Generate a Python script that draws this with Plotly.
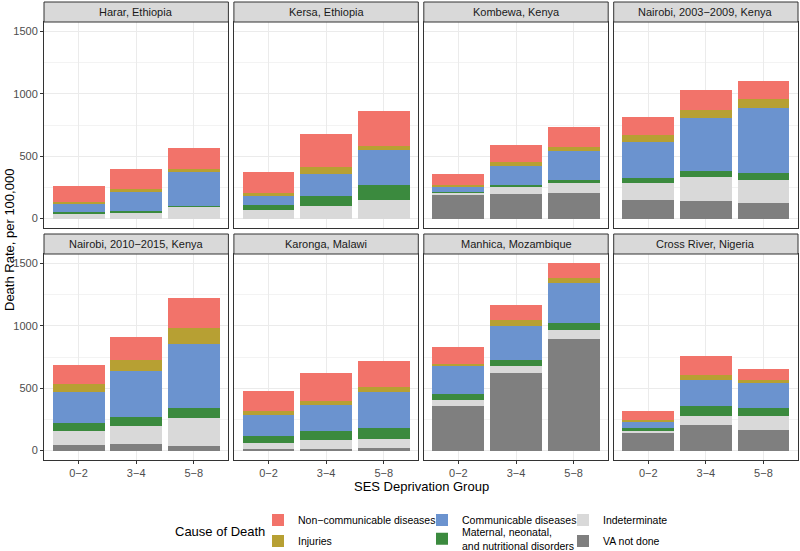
import plotly.graph_objects as go
from plotly.subplots import make_subplots

sites = ["Harar, Ethiopia", "Kersa, Ethiopia", "Kombewa, Kenya", "Nairobi, 2003−2009, Kenya",
         "Nairobi, 2010−2015, Kenya", "Karonga, Malawi", "Manhica, Mozambique", "Cross River, Nigeria"]
groups = ["0−2", "3−4", "5−8"]

# death rate per 100,000, one [0-2, 3-4, 5-8] list per site
va_not_done = [[0, 0, 0], [0, 0, 0], [190, 196, 204], [146, 141, 127],
               [48, 53, 40], [13, 13, 19], [357, 618, 895], [139, 205, 163]]
indeterminate = [[45, 52, 100], [70, 100, 146], [22, 64, 85], [138, 191, 186],
                 [112, 147, 218], [46, 70, 74], [51, 61, 72], [21, 69, 117]]
maternal = [[5, 8, 3], [38, 80, 122], [3, 10, 22], [43, 53, 53],
            [61, 66, 83], [58, 74, 91], [47, 51, 59], [21, 80, 61]]
communicable = [[70, 150, 277], [77, 178, 282], [45, 150, 228], [284, 425, 523],
                [248, 373, 511], [168, 208, 285], [219, 269, 314], [53, 213, 202]]
injuries = [[15, 30, 15], [18, 59, 34], [8, 30, 37], [61, 63, 72],
            [66, 88, 128], [35, 29, 40], [19, 48, 40], [14, 35, 24]]
noncommunicable = [[130, 156, 168], [168, 260, 279], [88, 138, 162], [146, 154, 141],
                   [152, 187, 243], [157, 224, 213], [141, 117, 120], [69, 160, 88]]

# stacking order bottom -> top; last item = which legend slot it goes in
causes = [
    ("VA not done", va_not_done, "#7f7f7f", "legend6"),
    ("Indeterminate", indeterminate, "#d9d9d9", "legend3"),
    ("Maternal, neonatal,<br>and nutritional disorders", maternal, "#3b8a3e", "legend5"),
    ("Communicable diseases", communicable, "#6b93cf", "legend2"),
    ("Injuries", injuries, "#b7a033", "legend4"),
    ("Non−communicable diseases", noncommunicable, "#f2736a", "legend"),
]

W, H = 800, 551
L, R, T, B = 44, 2, 2, 91
pw, ph = W - L - R, H - T - B
def px_x(p): return (p - L) / pw
def px_y(p): return (H - B - p) / ph

col_px = [(44, 228.4), (233.9, 418.3), (423.8, 608.2), (613.7, 798)]
row_px = [(22, 228), (254, 460)]  # plot area, strip sits 20px above

fig = make_subplots(rows=2, cols=4)

for i, site in enumerate(sites):
    r, c = divmod(i, 4)
    for name, vals, color, lg in causes:
        fig.add_trace(go.Bar(
            x=groups, y=vals[i], name=name, marker=dict(color=color, line_width=0),
            legendgroup=name, showlegend=(i == 0), legend=lg, width=0.9,
        ), row=r + 1, col=c + 1)

fig.update_layout(barmode="stack")

shapes, annotations = [], []
for i, site in enumerate(sites):
    r, c = divmod(i, 4)
    k = i + 1
    xa = "xaxis" if k == 1 else f"xaxis{k}"
    ya = "yaxis" if k == 1 else f"yaxis{k}"
    x0, x1 = px_x(col_px[c][0]), px_x(col_px[c][1])
    top, bot = row_px[r]
    fig.layout[xa].update(
        domain=[x0, x1], range=[-0.6, 2.6], showgrid=True, gridcolor="#ebebeb", gridwidth=1,
        showline=True, mirror=True, linecolor="#333333", linewidth=1,
        showticklabels=(r == 1), ticks="outside" if r == 1 else "", ticklen=3,
        tickcolor="#333333", tickfont=dict(size=11, color="#4d4d4d"), zeroline=False,
    )
    fig.layout[ya].update(
        domain=[px_y(bot), px_y(top)], range=[-75, 1575],
        tickvals=[0, 500, 1000, 1500], showgrid=True, gridcolor="#ebebeb", gridwidth=1,
        minor=dict(tickvals=[250, 750, 1250], showgrid=True, gridcolor="#f3f3f3", gridwidth=0.6),
        showline=True, mirror=True, linecolor="#333333", linewidth=1,
        showticklabels=(c == 0), ticks="outside" if c == 0 else "", ticklen=3,
        tickcolor="#333333", tickfont=dict(size=11, color="#4d4d4d"), zeroline=False,
    )
    # facet strip
    shapes.append(dict(type="rect", xref="paper", yref="paper", x0=x0, x1=x1,
                       y0=px_y(top), y1=px_y(top - 20), fillcolor="#d9d9d9",
                       line=dict(color="#333333", width=1), layer="above"))
    annotations.append(dict(text=site, xref="paper", yref="paper", x=(x0 + x1) / 2,
                            y=px_y(top - 10), xanchor="center", yanchor="middle",
                            showarrow=False, font=dict(size=11, color="#1a1a1a")))

annotations.append(dict(text="Death Rate, per 100,000", xref="paper", yref="paper",
                        x=px_x(9), y=px_y(240), textangle=-90, showarrow=False,
                        xanchor="center", yanchor="middle",
                        font=dict(size=13, color="#000000")))
annotations.append(dict(text="SES Deprivation Group", xref="paper", yref="paper",
                        x=px_x(421), y=px_y(486), showarrow=False,
                        xanchor="center", yanchor="middle",
                        font=dict(size=13, color="#000000")))
annotations.append(dict(text="Cause of Death", xref="paper", yref="paper",
                        x=px_x(220), y=px_y(531), showarrow=False,
                        xanchor="center", yanchor="middle",
                        font=dict(size=13, color="#000000")))

# 3 columns x 2 rows of legend entries, like the ggplot guide
leg_x = [258, 422, 563]
leg_y = [520, 541]
slots = ["legend", "legend2", "legend3", "legend4", "legend5", "legend6"]
legends = {}
for j, slot in enumerate(slots):
    rr, cc = divmod(j, 3)
    yy = leg_y[rr] - (2 if slot == "legend5" else 0)  # two-line label sits a bit higher
    legends[slot] = dict(orientation="v", xanchor="left", x=px_x(leg_x[cc]),
                         yanchor="middle", y=px_y(yy),
                         bgcolor="rgba(0,0,0,0)", font=dict(size=10.5, color="#000000"),
                         itemclick=False, itemdoubleclick=False)
fig.update_layout(**legends)

fig.update_layout(
    width=W, height=H, autosize=False,
    margin=dict(l=L, r=R, t=T, b=B, autoexpand=False),
    paper_bgcolor="white", plot_bgcolor="white",
    font=dict(family="Liberation Sans, Arial, sans-serif"),
    shapes=shapes, annotations=annotations, bargap=0.1,
)

fig.write_html("out.html", config={"displayModeBar": False},
               post_script="document.body.style.margin='0';")
